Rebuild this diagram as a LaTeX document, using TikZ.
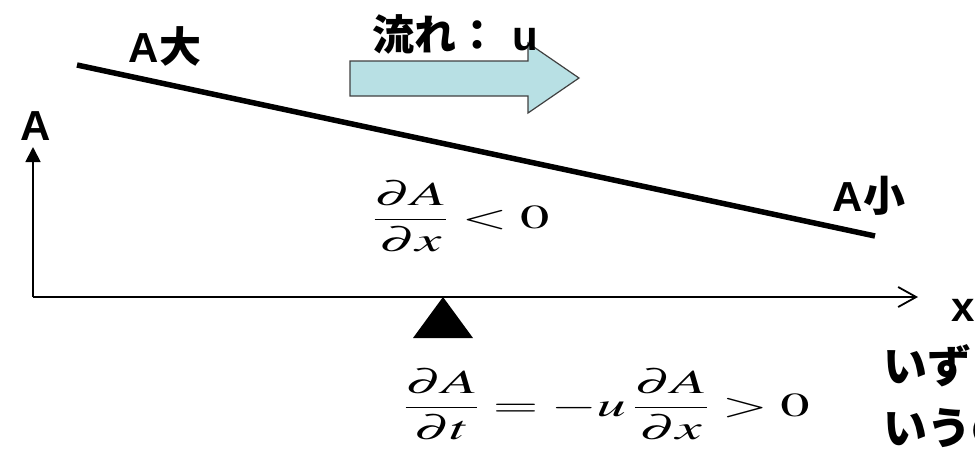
\documentclass[tikz,border=0pt]{standalone}
\usepackage{mathptmx}
\usepackage[no-math]{fontspec}
\setsansfont{Liberation Sans}
\newfontfamily\jpfont{Noto Sans CJK JP}
\usetikzlibrary{arrows.meta}

\definecolor{flowcyan}{RGB}{184,224,228}

\tikzset{
  lbl/.style={font=\sffamily\bfseries\fontsize{42}{46}\selectfont, inner sep=0pt},
  jplbl/.style={font=\jpfont\bfseries\fontsize{44}{48}\selectfont, inner sep=0pt},
  eqn/.style={font=\fontsize{30}{34}\selectfont, inner sep=0pt},
  axis/.style={line width=1.8pt},
}
% stretched equation, as in the slide
\newcommand{\wideeq}[1]{\scalebox{1.95}[1.12]{$\displaystyle #1$}}

\begin{document}
\begin{tikzpicture}[x=1pt, y=-1pt]
\useasboundingbox (0,0) rectangle (975,448);
\clip (0,0) rectangle (975,448);

% Axes
\coordinate (origin) at (33,297);
\coordinate (ytip) at (33,147);
\coordinate (xtip) at (918,297);
\draw[axis, -{Triangle[length=15pt,width=15pt]}] (origin) -- (ytip);
\draw[axis, -{Straight Barb[length=18pt,width=20pt]}] (origin) -- (xtip);
\node[lbl] (ylab) at (36,126) {A};
\node[lbl] (xlab) at (963,310) {x};

% Profile of A
\coordinate (high) at (77,65);
\coordinate (low) at (875,236);
\draw[line width=5.5pt] (high) -- (low);
\node[lbl] (big) at (165,46) {A{\jpfont 大}};
\node[lbl] (small) at (869,196) {A{\jpfont 小}};

% Flow
\draw[fill=flowcyan, draw=black!75, line width=1.2pt]
  (350,61) -- (528,61) -- (528,43) -- (579,78) -- (528,113) -- (528,96) -- (350,96) -- cycle;
\node[lbl, anchor=west] (flow) at (372,34) {{\jpfont 流れ：}\hspace{14pt}u};

% Gradient
\node[eqn, anchor=west] (grad) at (372,216)
  {\wideeq{\frac{\partial A}{\partial x} < 0}};

% Point and its rate
\coordinate (pt) at (443,297);
\fill (pt) -- ++(30,41) -- ++(-60,0) -- cycle;
\node[eqn, anchor=west] (rate) at (403,404)
  {\wideeq{\frac{\partial A}{\partial t} = -u\,\frac{\partial A}{\partial x} > 0}};

% Note (cut at the edge)
\node[jplbl, anchor=west] (note1) at (883,366) {いず};
\node[jplbl, anchor=west] (note2) at (883,428) {いうの};

\end{tikzpicture}
\end{document}
